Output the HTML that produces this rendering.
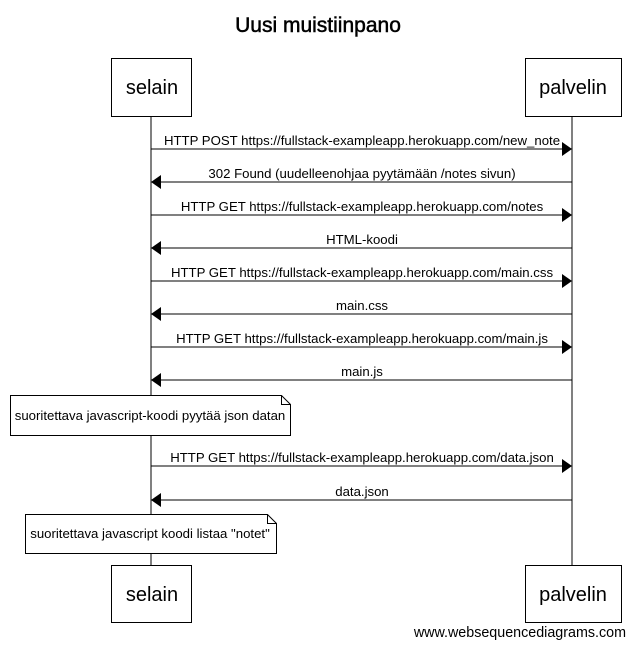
<!DOCTYPE html>
<html><head><meta charset="utf-8"><style>
body{margin:0;background:#fff}
svg{display:block;font-family:"Liberation Sans",sans-serif}
</style></head><body>
<svg width="634" height="647" viewBox="0 0 634 647" xmlns="http://www.w3.org/2000/svg">
<defs>
<marker id="a" markerWidth="10" markerHeight="14" refX="10" refY="7" orient="auto" markerUnits="userSpaceOnUse"><path d="M0,0 L10,7 L0,14 z" fill="#000"/></marker>
</defs>
<text x="318" y="32" font-size="21" text-anchor="middle" stroke="#000" stroke-width="0.5">Uusi muistiinpano</text>
<line x1="151" y1="116" x2="151" y2="565" stroke="#000"/>
<line x1="572" y1="116" x2="572" y2="565" stroke="#000"/>
<g fill="#fff" stroke="#000">
<rect x="111.5" y="58.5" width="80" height="58"/>
<rect x="525.5" y="58.5" width="96" height="58"/>
<rect x="111.5" y="565.5" width="80" height="57"/>
<rect x="525.5" y="565.5" width="96" height="57"/>
</g>
<g font-size="20" text-anchor="middle">
<text x="152" y="94">selain</text><text x="573" y="94">palvelin</text>
<text x="152" y="601">selain</text><text x="573" y="601">palvelin</text>
</g>
<g stroke="#000" fill="none">
<line x1="151" y1="149" x2="572" y2="149" marker-end="url(#a)"/>
<line x1="572" y1="182" x2="151" y2="182" marker-end="url(#a)"/>
<line x1="151" y1="215" x2="572" y2="215" marker-end="url(#a)"/>
<line x1="572" y1="248" x2="151" y2="248" marker-end="url(#a)"/>
<line x1="151" y1="281" x2="572" y2="281" marker-end="url(#a)"/>
<line x1="572" y1="314" x2="151" y2="314" marker-end="url(#a)"/>
<line x1="151" y1="347" x2="572" y2="347" marker-end="url(#a)"/>
<line x1="572" y1="380" x2="151" y2="380" marker-end="url(#a)"/>
<line x1="151" y1="466" x2="572" y2="466" marker-end="url(#a)"/>
<line x1="572" y1="500" x2="151" y2="500" marker-end="url(#a)"/>
</g>
<g font-size="13.2" text-anchor="middle">
<text x="362" y="145">HTTP POST https://fullstack-exampleapp.herokuapp.com/new_note</text>
<text x="362" y="178">302 Found (uudelleenohjaa pyytämään /notes sivun)</text>
<text x="362" y="211">HTTP GET https://fullstack-exampleapp.herokuapp.com/notes</text>
<text x="362" y="244">HTML-koodi</text>
<text x="362" y="277">HTTP GET https://fullstack-exampleapp.herokuapp.com/main.css</text>
<text x="362" y="310">main.css</text>
<text x="362" y="343">HTTP GET https://fullstack-exampleapp.herokuapp.com/main.js</text>
<text x="362" y="376">main.js</text>
<text x="362" y="462">HTTP GET https://fullstack-exampleapp.herokuapp.com/data.json</text>
<text x="362" y="496">data.json</text>
</g>
<g fill="#fff" stroke="#000">
<path d="M10.5,395.5 H281.5 L290.5,404.5 V435.5 H10.5 Z"/>
<path d="M281.5,395.5 V404.5 H290.5" fill="none"/>
<path d="M25.5,514.5 H267.5 L276.5,523.5 V553.5 H25.5 Z"/>
<path d="M267.5,514.5 V523.5 H276.5" fill="none"/>
</g>
<g font-size="13.2" text-anchor="middle">
<text x="150" y="420">suoritettava javascript-koodi pyytää json datan</text>
<text x="150" y="538">suoritettava javascript koodi listaa "notet"</text>
</g>
<text x="626" y="637" font-size="14.3" text-anchor="end">www.websequencediagrams.com</text>
</svg>
</body></html>
